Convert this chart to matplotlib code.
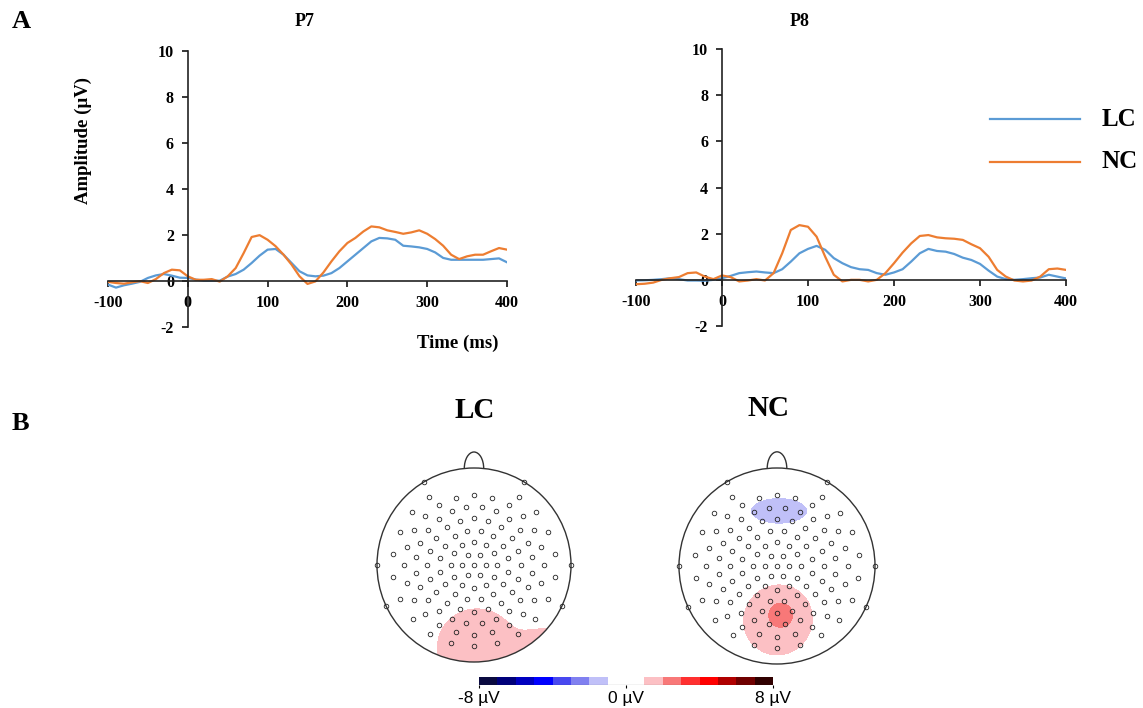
import numpy as np
import matplotlib
matplotlib.use('Agg')
import matplotlib.pyplot as plt
from matplotlib.colors import ListedColormap, BoundaryNorm
from matplotlib.patches import Circle, Arc
from matplotlib.cm import ScalarMappable

plt.rcParams['font.family'] = ['Liberation Serif', 'DejaVu Serif']
plt.rcParams['axes.unicode_minus'] = False

W, H = 1143, 708

# ---- ERP data (µV), sampled every 10 ms ----
times = np.arange(-100, 401, 10)

p7_lc = [-0.17, -0.3, -0.2, -0.13, -0.05, 0.12, 0.23, 0.29, 0.22, 0.13,
         0.12, 0.05, 0.0, 0.0, 0.0, 0.18, 0.29, 0.48, 0.77, 1.09,
         1.35, 1.38, 1.13, 0.77, 0.41, 0.23, 0.19, 0.22, 0.33, 0.55,
         0.84, 1.13, 1.42, 1.71, 1.86, 1.84, 1.78, 1.52, 1.49, 1.45,
         1.38, 1.23, 0.99, 0.91, 0.91, 0.91, 0.91, 0.91, 0.94, 0.97, 0.8]
p7_nc = [-0.05, -0.1, -0.13, -0.07, -0.02, -0.1, 0.07, 0.33, 0.48, 0.45,
         0.19, 0.04, 0.04, 0.07, -0.04, 0.19, 0.55, 1.2, 1.9, 1.98,
         1.78, 1.5, 1.13, 0.7, 0.19, -0.14, -0.03, 0.36, 0.84, 1.28,
         1.64, 1.86, 2.14, 2.36, 2.32, 2.19, 2.12, 2.04, 2.1, 2.19,
         2.04, 1.81, 1.52, 1.13, 0.94, 1.06, 1.13, 1.13, 1.28, 1.42, 1.35]
p8_lc = [-0.03, -0.02, 0.0, 0.03, 0.07, 0.03, -0.03, -0.03, -0.04, 0.0,
         0.07, 0.17, 0.29, 0.33, 0.36, 0.32, 0.29, 0.46, 0.79, 1.15,
         1.34, 1.47, 1.3, 0.94, 0.72, 0.55, 0.46, 0.43, 0.29, 0.22,
         0.32, 0.46, 0.79, 1.15, 1.34, 1.25, 1.22, 1.12, 0.96, 0.86,
         0.69, 0.4, 0.14, 0.03, 0.0, 0.03, 0.07, 0.1, 0.22, 0.14, 0.06]
p8_nc = [-0.19, -0.17, -0.12, 0.0, 0.07, 0.12, 0.29, 0.32, 0.14, 0.03,
         0.19, 0.12, -0.07, -0.03, 0.03, -0.03, 0.29, 1.15, 2.16, 2.37,
         2.3, 1.87, 1.0, 0.22, -0.07, 0.0, 0.0, -0.07, 0.0, 0.29,
         0.72, 1.18, 1.58, 1.9, 1.94, 1.84, 1.8, 1.78, 1.73, 1.54,
         1.37, 1.0, 0.43, 0.14, -0.03, -0.07, -0.03, 0.14, 0.46, 0.49, 0.43]

xticks = [-100, 0, 100, 200, 300, 400]
yticks = [-2, 0, 2, 4, 6, 8, 10]

# ---- topography: (x, y, sigma_x, sigma_y, amplitude µV) in head units ----
lc_blobs = [(0.03, -0.85, 0.42, 0.41, 1.6),
            (0.82, -0.8, 0.2, 0.12, 1.45)]
nc_blobs = [(0.02, 0.56, 0.33, 0.155, -1.5),
            (0.0, -0.57, 0.37, 0.37, 1.5),
            (0.05, -0.48, 0.14, 0.14, 0.9)]

# electrode rings (radius, count) and electrodes on the outline (degrees)
ring_r = [0.0, 0.12, 0.24, 0.36, 0.48, 0.60, 0.72, 0.84]
ring_n = [1, 6, 12, 16, 20, 24, 24, 19]
edge_angles = [0, 59, 121, 180, 205, 335]

cb_colors = ['#0a0a40', '#00007a', '#0000c0', '#0000ff', '#4848f0', '#8080f0',
             '#c0c0f8', '#ffffff', '#ffffff', '#fcc0c4', '#f87878', '#ff3030',
             '#ff0000', '#b00000', '#700000', '#300000']
levels = np.arange(-8, 9, 1)

blue = '#5b9bd5'
orange = '#ed7d31'


def px_rect(x0, y0, x1, y1):
    return [x0 / W, 1 - y1 / H, (x1 - x0) / W, (y1 - y0) / H]


fig = plt.figure(figsize=(W / 100, H / 100), dpi=100)


def erp_axes(rect, lc, nc):
    ax = fig.add_axes(rect)
    ax.plot(times, lc, color=blue, lw=1.6)
    ax.plot(times, nc, color=orange, lw=1.6)
    ax.set_xlim(-100, 400)
    ax.set_ylim(-2, 10)
    ax.spines['left'].set_position(('data', 0))
    ax.spines['bottom'].set_position(('data', 0))
    ax.spines[['top', 'right']].set_visible(False)
    for s in ['left', 'bottom']:
        ax.spines[s].set_linewidth(1.2)
        ax.spines[s].set_color('#222222')
    ax.set_xticks(xticks)
    ax.set_yticks(yticks)
    ax.tick_params(axis='both', direction='out', length=4, width=1.1, pad=6, labelsize=11.5)
    for lab in ax.get_xticklabels() + ax.get_yticklabels():
        lab.set_fontweight('bold')
    ax.patch.set_visible(False)
    return ax


ax1 = erp_axes(px_rect(108, 50.7, 507, 326.7), p7_lc, p7_nc)
ax2 = erp_axes(px_rect(636, 49, 1066, 326), p8_lc, p8_nc)

fig.text(305 / W, 1 - 22 / H, 'P7', ha='center', va='center', fontsize=13, fontweight='bold')
fig.text(800 / W, 1 - 22 / H, 'P8', ha='center', va='center', fontsize=13, fontweight='bold')
fig.text(83 / W, 1 - 141 / H, 'Amplitude (µV)', rotation=90, ha='center', va='center',
         fontsize=13.5, fontweight='bold')
fig.text(458 / W, 1 - 343 / H, 'Time (ms)', ha='center', va='center',
         fontsize=13.5, fontweight='bold')
fig.text(21 / W, 1 - 21 / H, 'A', ha='center', va='center', fontsize=19, fontweight='bold')
fig.text(20 / W, 1 - 423 / H, 'B', ha='center', va='center', fontsize=19, fontweight='bold')

# legend drawn by hand in figure coords
for lab, col, yy in [('LC', blue, 119), ('NC', orange, 162)]:
    fig.add_artist(plt.Line2D([990 / W, 1080 / W], [1 - yy / H, 1 - yy / H],
                              color=col, lw=1.6))
    fig.text(1102 / W, 1 - yy / H, lab, ha='left', va='center', fontsize=18,
             fontweight='bold')

# ---- topomaps ----
cmap = ListedColormap(cb_colors)
norm = BoundaryNorm(levels, cmap.N)

ex, ey = [], []
for k, (r, n) in enumerate(zip(ring_r, ring_n)):
    if r == 0:
        ex.append(0.0)
        ey.append(0.0)
        continue
    if r > 0.8:
        ang = np.linspace(115, 115 + 310, n, endpoint=False) + 310 / n / 2
    else:
        ang = 90 + np.arange(n) * 360 / n + (k % 2) * 180 / n
    ex.extend(r * np.cos(np.radians(ang)))
    ey.extend(r * np.sin(np.radians(ang)))
ex.extend(np.cos(np.radians(edge_angles)))
ey.extend(np.sin(np.radians(edge_angles)))


def topo(cx, cy, R, blobs, title, title_xy):
    half = 1.25 * R
    ax = fig.add_axes(px_rect(cx - half, cy - half, cx + half, cy + half))
    g = np.linspace(-1.05, 1.05, 301)
    X, Y = np.meshgrid(g, g)
    Z = np.zeros_like(X)
    for bx, by, sx, sy, amp in blobs:
        Z += amp * np.exp(-((X - bx) ** 2 / (2 * sx ** 2) + (Y - by) ** 2 / (2 * sy ** 2)))
    cs = ax.contourf(X, Y, Z, levels=levels, cmap=cmap, norm=norm)
    cs.set_clip_path(Circle((0, 0), 1, transform=ax.transData))
    ax.add_patch(Arc((0, 0.995), 0.2, 0.34, theta1=0, theta2=180, ec='#333333', lw=1.0))
    ax.add_patch(Circle((0, 0), 1, fc='none', ec='#333333', lw=1.0, zorder=3))
    ax.plot(ex, ey, 'o', ms=3.3, mfc='none', mec='#222222', mew=0.6, zorder=4)
    ax.set_xlim(-1.25, 1.25)
    ax.set_ylim(-1.25, 1.25)
    ax.axis('off')
    fig.text(title_xy[0] / W, 1 - title_xy[1] / H, title, ha='center', va='center',
             fontsize=21, fontweight='bold')
    return ax


topo(474, 565, 97, lc_blobs, 'LC', (475, 410))
topo(777, 566, 98, nc_blobs, 'NC', (769, 408))

# ---- colorbar ----
cax = fig.add_axes(px_rect(479, 677, 773, 685))
cb = fig.colorbar(ScalarMappable(norm=norm, cmap=cmap), cax=cax, orientation='horizontal')
cb.outline.set_visible(False)
cb.set_ticks([-8, 0, 8])
cb.set_ticklabels(['-8 µV', '0 µV', '8 µV'])
cb.minorticks_off()
cax.tick_params(length=2, width=0.8, pad=2, labelsize=12.5)
for lab in cax.get_xticklabels():
    lab.set_fontfamily(['Liberation Sans', 'DejaVu Sans'])
cax.axhline(0, color='#333333', lw=0.8)

fig.savefig('out.png', dpi=100)
